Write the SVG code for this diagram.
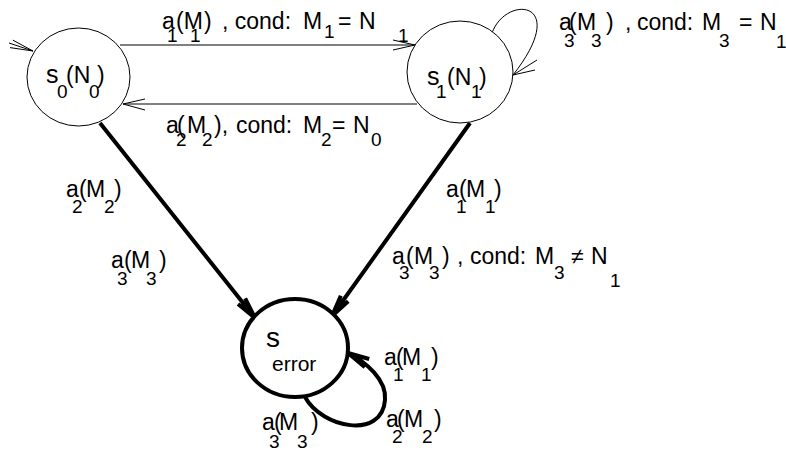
<svg xmlns="http://www.w3.org/2000/svg" width="786" height="455" viewBox="0 0 786 455">
<style>
text{font-family:"Liberation Sans",Arial,sans-serif;font-size:23px;fill:#000}
.big{font-size:25px}
.s{font-size:19px}
.thin{fill:none;stroke:#000;stroke-width:1}
.thick{fill:none;stroke:#000;stroke-width:4;stroke-linejoin:miter}
.node{fill:#fff;stroke:#000;stroke-width:1}
.nodeb{fill:#fff;stroke:#000;stroke-width:4}
</style>
<g id="connectors">
  <path class="thin" d="M9,43 L33,51 M10,47.6 L33,51 L12.8,40.1"/>
  <path class="thin" d="M120,45 L415,45 M393,40 L415,45 L393,50"/>
  <path class="thin" d="M417,104 L123,104 M145,99 L123,104 L145,110"/>
  <path class="thin" d="M492,33 C506,-6 572,0 513,75 M537,60 L513,75 L535,70"/>
  <path class="thick" d="M100,123 L255,318 M245.2,298.3 L255,318 L238,304"/>
  <path class="thick" d="M470,123 L332,316 M348.2,301.2 L332,316 L340.8,295.8"/>
  <path class="thick" d="M305,397 C322,428 382,440 385,400 C387,380 366,362 348,353 M364.9,367.1 L348,353 L369.2,359"/>
</g>
<g id="s0">
  <ellipse class="node" cx="78.5" cy="77" rx="51.5" ry="49"/>
  <text><tspan class="big" x="46" y="83">s</tspan><tspan class="s" x="57" y="98">0</tspan><tspan x="66" y="83">(N</tspan><tspan class="s" x="89" y="98">0</tspan><tspan x="97" y="83">)</tspan></text>
</g>
<g id="s1">
  <ellipse class="node" cx="460" cy="72" rx="53" ry="51"/>
  <text><tspan class="big" x="427" y="85">s</tspan><tspan class="s" x="436" y="98">1</tspan><tspan x="447" y="85">(N</tspan><tspan class="s" x="471" y="98">1</tspan><tspan x="479" y="85">)</tspan></text>
</g>
<g id="s_error">
  <ellipse class="nodeb" cx="295" cy="348" rx="53" ry="49"/>
  <text><tspan style="font-size:28px" x="266" y="347">s</tspan><tspan style="font-size:21px" x="272" y="371">error</tspan></text>
</g>
<g id="labels">
  <text><tspan x="162" y="29">a</tspan><tspan class="s" x="167" y="42">1</tspan><tspan x="176" y="29">(M</tspan><tspan class="s" x="190" y="42">1</tspan><tspan x="204" y="29">)</tspan><tspan x="222" y="29">, cond:</tspan><tspan x="303" y="29">M</tspan><tspan class="s" x="324" y="38">1</tspan><tspan x="338" y="29">=</tspan><tspan x="359" y="29">N</tspan><tspan class="s" x="398" y="42">1</tspan></text>
  <text><tspan x="166" y="133">a</tspan><tspan class="s" x="176" y="146">2</tspan><tspan x="177" y="133">(</tspan><tspan x="187" y="133">M</tspan><tspan class="s" x="202" y="146">2</tspan><tspan x="214" y="133">),</tspan><tspan x="236" y="133">cond:</tspan><tspan x="303" y="133">M</tspan><tspan class="s" x="321" y="146">2</tspan><tspan x="332" y="133">=</tspan><tspan x="353" y="133">N</tspan><tspan class="s" x="371" y="146">0</tspan></text>
  <text><tspan x="559" y="30">a</tspan><tspan class="s" x="564" y="47">3</tspan><tspan x="569" y="30">(</tspan><tspan x="577" y="30">M</tspan><tspan class="s" x="591" y="47">3</tspan><tspan x="606" y="30">)</tspan><tspan x="625" y="30">,</tspan><tspan x="637" y="30">cond:</tspan><tspan x="702" y="30">M</tspan><tspan class="s" x="719" y="47">3</tspan><tspan x="739" y="30">=</tspan><tspan x="760" y="30">N</tspan><tspan class="s" x="776" y="48">1</tspan></text>
  <text><tspan x="392" y="264">a</tspan><tspan class="s" x="399" y="279">3</tspan><tspan x="406" y="264">(</tspan><tspan x="414" y="264">M</tspan><tspan class="s" x="429" y="279">3</tspan><tspan x="442" y="264">)</tspan><tspan x="457" y="264">,</tspan><tspan x="470" y="264">cond:</tspan><tspan x="535" y="264">M</tspan><tspan class="s" x="554" y="279">3</tspan><tspan x="571" y="264">≠</tspan><tspan x="591" y="264">N</tspan><tspan class="s" x="610" y="287">1</tspan></text>
  <text><tspan x="66" y="197">a</tspan><tspan class="s" x="72" y="213">2</tspan><tspan x="79" y="197">(</tspan><tspan x="86" y="197">M</tspan><tspan class="s" x="104" y="213">2</tspan><tspan x="114" y="197">)</tspan></text>
  <text><tspan x="111" y="268">a</tspan><tspan class="s" x="117" y="285">3</tspan><tspan x="124" y="268">(</tspan><tspan x="131" y="268">M</tspan><tspan class="s" x="146" y="285">3</tspan><tspan x="159" y="268">)</tspan></text>
  <text><tspan x="446" y="197">a</tspan><tspan class="s" x="456" y="213">1</tspan><tspan x="459" y="197">(</tspan><tspan x="466" y="197">M</tspan><tspan class="s" x="485" y="213">1</tspan><tspan x="494" y="197">)</tspan></text>
  <text><tspan x="384" y="365">a</tspan><tspan class="s" x="393" y="381">1</tspan><tspan x="396" y="365">(</tspan><tspan x="402" y="365">M</tspan><tspan class="s" x="421" y="381">1</tspan><tspan x="431" y="365">)</tspan></text>
  <text><tspan x="386" y="427">a</tspan><tspan class="s" x="392" y="443">2</tspan><tspan x="397" y="427">(</tspan><tspan x="404" y="427">M</tspan><tspan class="s" x="422" y="443">2</tspan><tspan x="434" y="427">)</tspan></text>
  <text><tspan x="262" y="430">a</tspan><tspan class="s" x="269" y="448">3</tspan><tspan x="274" y="430">(</tspan><tspan x="279" y="430">M</tspan><tspan class="s" x="297" y="448">3</tspan><tspan x="311" y="430">)</tspan></text>
</g>
</svg>
